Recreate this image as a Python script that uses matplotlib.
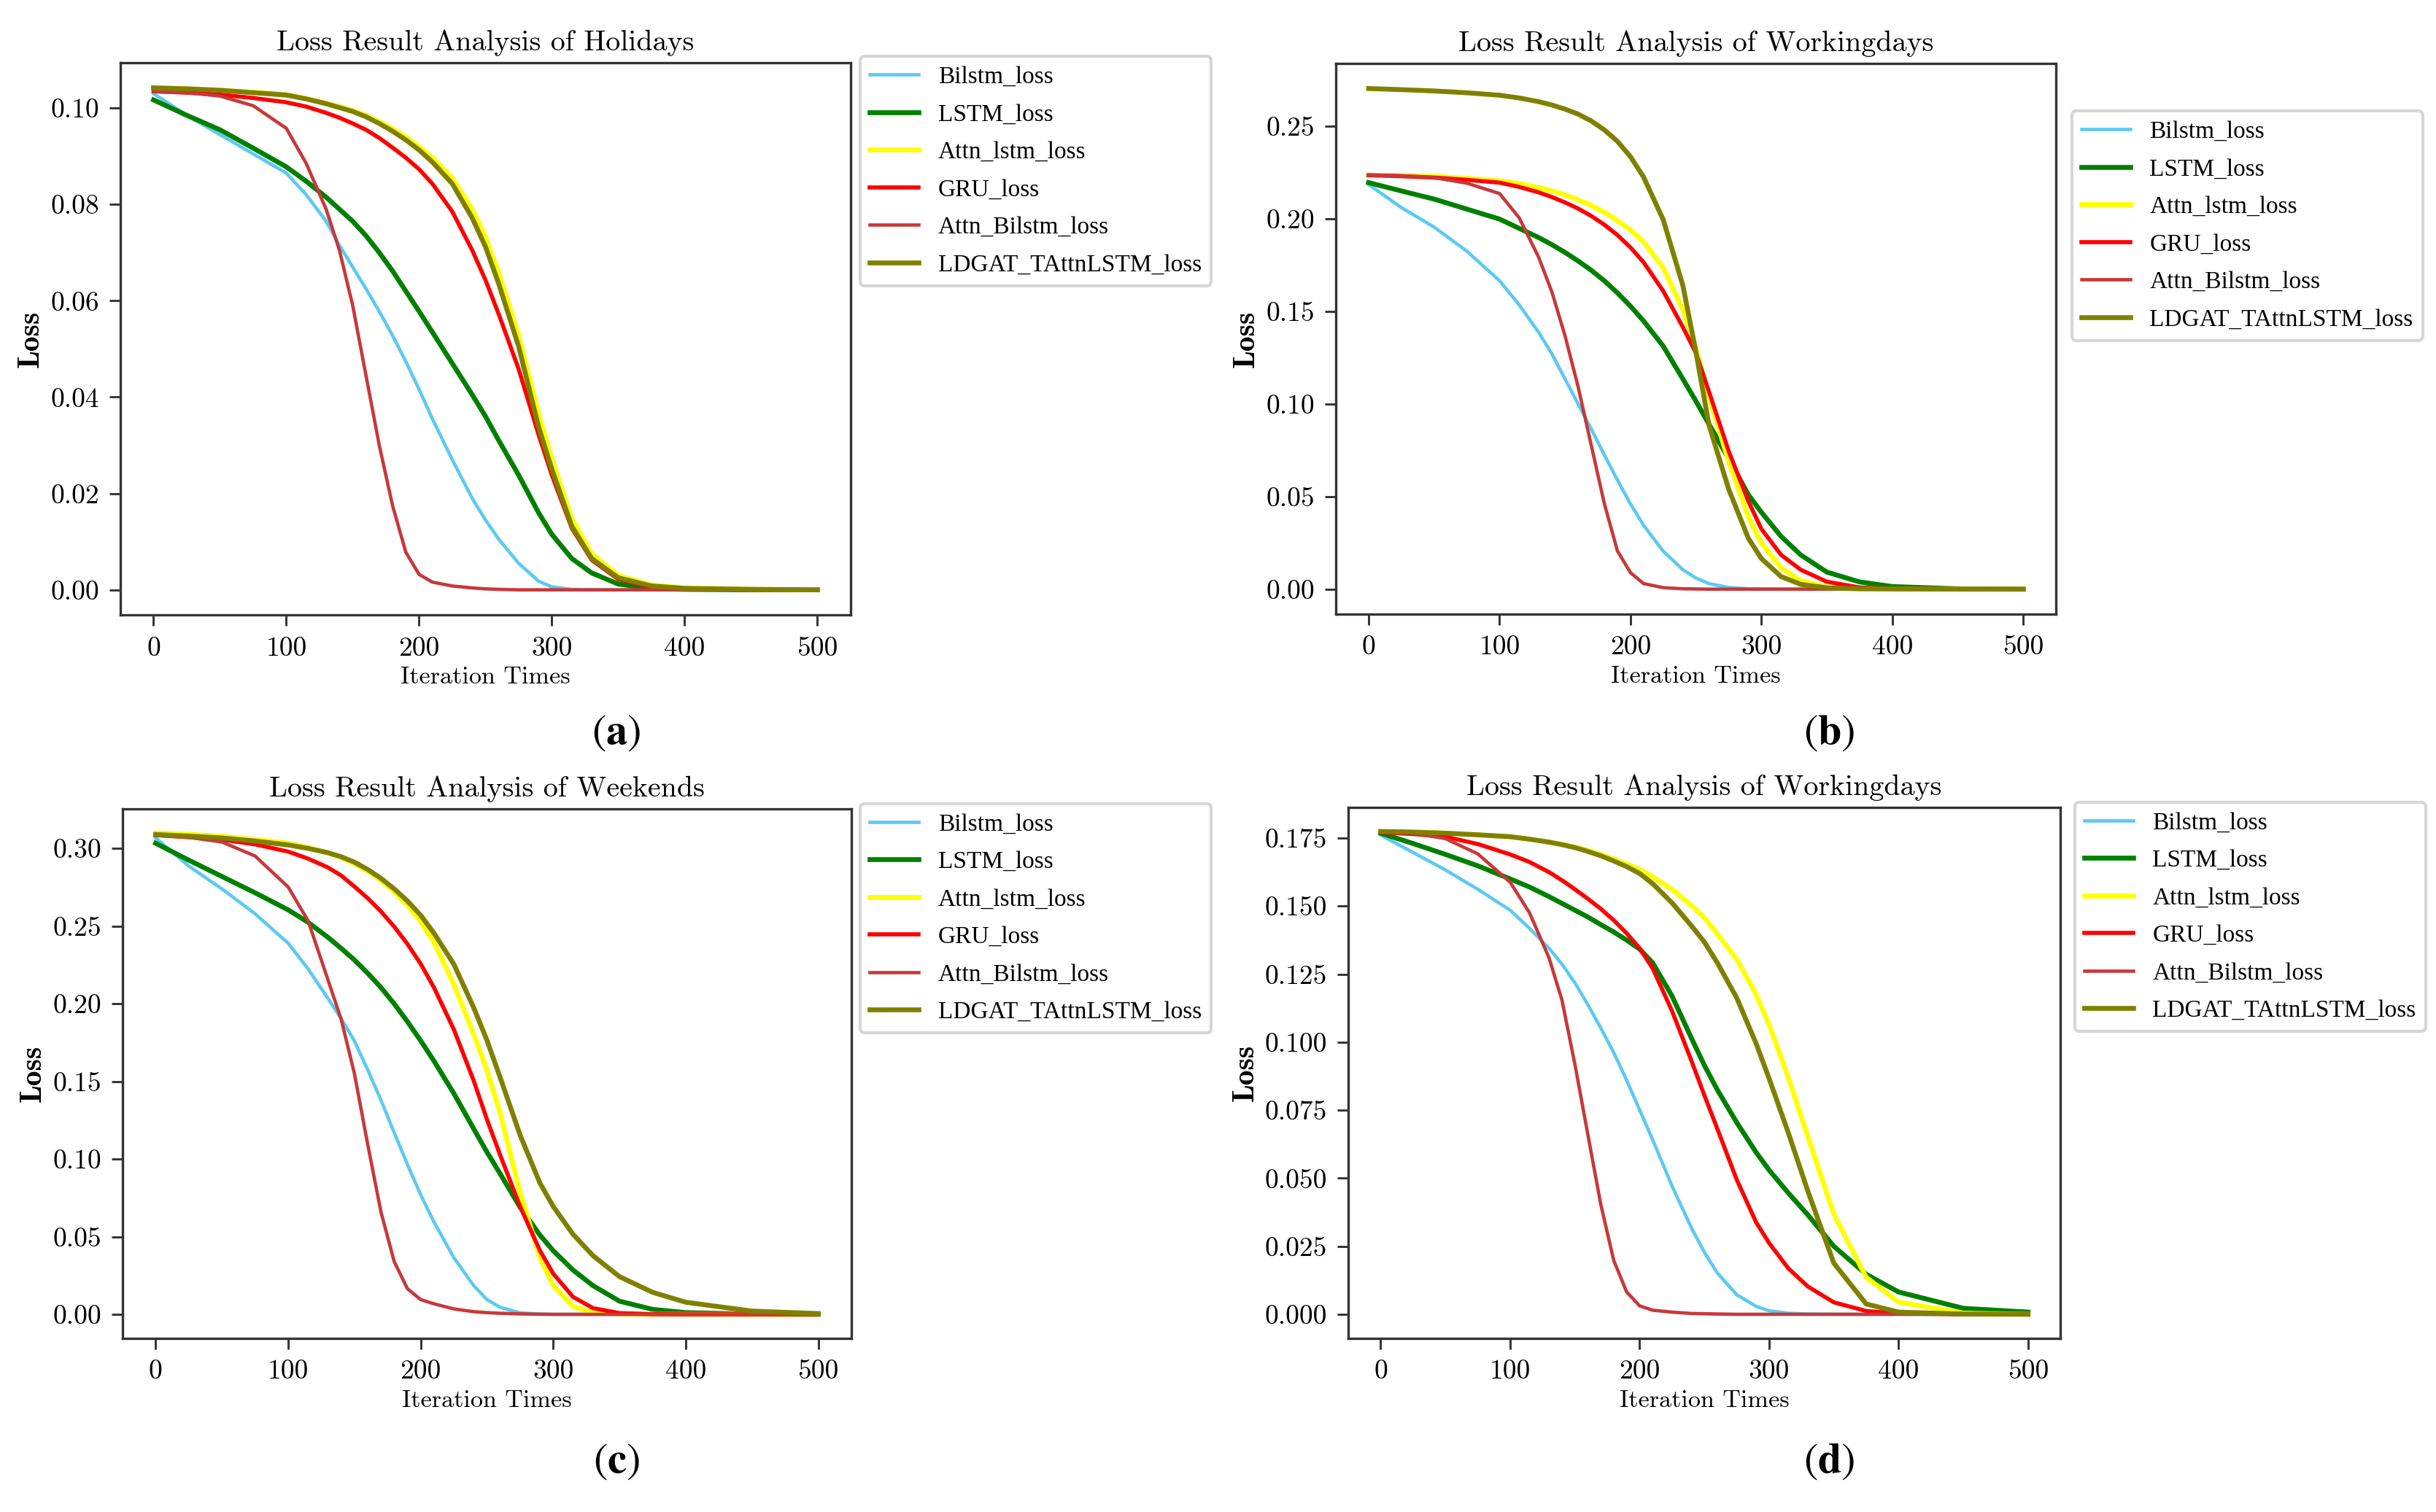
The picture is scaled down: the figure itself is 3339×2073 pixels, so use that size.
import matplotlib
matplotlib.use("Agg")
import matplotlib.pyplot as plt

# iteration grid the curves were read on
iters = [0, 25, 50, 75, 100, 115, 130, 140, 150, 160, 170, 180, 190, 200, 210,
         225, 240, 250, 260, 275, 290, 300, 315, 330, 350, 375, 400, 450, 500]

series_names = ["Bilstm_loss", "LSTM_loss", "Attn_lstm_loss", "GRU_loss",
                "Attn_Bilstm_loss", "LDGAT_TAttnLSTM_loss"]

# (a) holidays
hol_bilstm = [0.103, 0.0985, 0.0945, 0.0905, 0.0865, 0.082, 0.0765, 0.0715, 0.067, 0.0625, 0.0578,
              0.0528, 0.0474, 0.0416, 0.0355, 0.027, 0.019, 0.0145, 0.0105, 0.0055, 0.0018, 0.0006,
              0.0001, 0, 0, 0, 0, 0, 0]
hol_lstm = [0.1017, 0.0985, 0.0955, 0.0917, 0.0878, 0.0848, 0.0815, 0.079, 0.0765, 0.0735, 0.07,
            0.0662, 0.062, 0.0578, 0.0535, 0.047, 0.0405, 0.036, 0.031, 0.0238, 0.016, 0.0115,
            0.0065, 0.0035, 0.0012, 0.0003, 0.0001, 0, 0]
hol_attn_lstm = [0.1042, 0.104, 0.1037, 0.1033, 0.1028, 0.102, 0.101, 0.1003, 0.0995, 0.0985, 0.0972,
                 0.0957, 0.094, 0.092, 0.0897, 0.0855, 0.079, 0.0732, 0.0658, 0.0528, 0.0365, 0.0272,
                 0.0148, 0.0075, 0.003, 0.001, 0.0004, 0.0001, 0]
hol_gru = [0.1035, 0.1032, 0.1028, 0.1021, 0.1012, 0.1003, 0.099, 0.098, 0.0968, 0.0955, 0.0938,
           0.0918, 0.0897, 0.0873, 0.0843, 0.0785, 0.0705, 0.0643, 0.0572, 0.0458, 0.0322, 0.0238,
           0.0128, 0.0062, 0.0022, 0.0006, 0.0002, 0, 0]
hol_attn_bilstm = [0.1034, 0.1032, 0.1025, 0.1005, 0.0958, 0.0885, 0.079, 0.0705, 0.059, 0.0445, 0.030,
                   0.0175, 0.0078, 0.0032, 0.0016, 0.0008, 0.0004, 0.0002, 0.0001, 0, 0, 0,
                   0, 0, 0, 0, 0, 0, 0]
hol_ldgat = [0.1042, 0.104, 0.1037, 0.1032, 0.1027, 0.1019, 0.1009, 0.1001, 0.0993, 0.0982, 0.0968,
             0.0952, 0.0934, 0.0913, 0.0888, 0.0843, 0.0772, 0.0712, 0.0635, 0.0505, 0.0338, 0.025,
             0.0132, 0.0065, 0.0025, 0.0008, 0.0003, 0.0001, 0]

# (b) workingdays
wd_bilstm = [0.2185, 0.206, 0.1955, 0.1825, 0.1665, 0.1535, 0.1385, 0.127, 0.1135, 0.1, 0.0865,
             0.0725, 0.059, 0.046, 0.0345, 0.0205, 0.0105, 0.006, 0.003, 0.0009, 0.0002, 0.0001,
             0, 0, 0, 0, 0, 0, 0]
wd_lstm = [0.2195, 0.215, 0.2106, 0.2052, 0.1998, 0.1948, 0.1898, 0.186, 0.1818, 0.1772, 0.1722,
           0.1665, 0.16, 0.1528, 0.1448, 0.1312, 0.1135, 0.1015, 0.089, 0.0705, 0.051, 0.0415,
           0.0285, 0.0185, 0.0092, 0.0039, 0.0014, 0.0002, 0]
wd_attn_lstm = [0.2235, 0.2233, 0.2229, 0.2219, 0.2205, 0.219, 0.2168, 0.215, 0.213, 0.2103, 0.2072,
                0.2035, 0.199, 0.194, 0.1875, 0.1735, 0.151, 0.13, 0.104, 0.069, 0.039, 0.025,
                0.0115, 0.0045, 0.0012, 0.0003, 0.0001, 0, 0]
wd_gru = [0.2235, 0.223, 0.2222, 0.221, 0.2195, 0.2172, 0.2142, 0.2117, 0.2088, 0.2055, 0.2015,
          0.1968, 0.1912, 0.1845, 0.1765, 0.161, 0.1415, 0.1275, 0.1065, 0.0745, 0.0475, 0.0325,
          0.0185, 0.0105, 0.004, 0.0009, 0.0002, 0, 0]
wd_attn_bilstm = [0.2235, 0.2232, 0.2222, 0.2192, 0.2136, 0.2005, 0.179, 0.1604, 0.1368, 0.1093, 0.0778,
                  0.0463, 0.0207, 0.0089, 0.003, 0.0008, 0.0002, 0.0001, 0, 0, 0, 0,
                  0, 0, 0, 0, 0, 0, 0]
wd_ldgat = [0.2703, 0.2697, 0.269, 0.268, 0.2667, 0.2652, 0.2632, 0.2614, 0.2592, 0.2565, 0.2528,
            0.248, 0.2418, 0.2335, 0.2225, 0.1995, 0.164, 0.128, 0.0885, 0.054, 0.0275, 0.0165,
            0.0068, 0.0026, 0.0007, 0.0002, 0.0001, 0, 0]

# (c) weekends
we_bilstm = [0.3068, 0.2887, 0.274, 0.258, 0.239, 0.2225, 0.2035, 0.1905, 0.176, 0.1575, 0.138,
             0.117, 0.0965, 0.077, 0.0595, 0.0365, 0.0185, 0.0095, 0.0045, 0.001, 0.0002, 0,
             0, 0, 0, 0, 0, 0, 0]
we_lstm = [0.3034, 0.2925, 0.282, 0.2715, 0.2605, 0.2525, 0.2428, 0.2357, 0.2282, 0.2197, 0.2105,
           0.2, 0.1885, 0.1762, 0.1632, 0.1423, 0.1195, 0.1045, 0.0905, 0.069, 0.051, 0.041,
           0.0285, 0.0185, 0.0085, 0.0032, 0.0011, 0.0002, 0]
we_attn_lstm = [0.31, 0.3092, 0.3078, 0.3058, 0.3035, 0.3007, 0.2972, 0.2942, 0.2902, 0.2855, 0.2795,
                0.2722, 0.2635, 0.253, 0.2395, 0.2125, 0.1805, 0.157, 0.1295, 0.0785, 0.0365, 0.0185,
                0.0052, 0.001, 0.0002, 0, 0, 0, 0]
we_gru = [0.3086, 0.3073, 0.3057, 0.3027, 0.298, 0.2935, 0.2878, 0.2826, 0.2755, 0.268, 0.2595,
          0.2497, 0.2385, 0.2257, 0.2105, 0.1835, 0.1505, 0.1255, 0.1025, 0.0695, 0.041, 0.0262,
          0.0112, 0.004, 0.0008, 0.0001, 0, 0, 0]
we_attn_bilstm = [0.3086, 0.3072, 0.3042, 0.2952, 0.2752, 0.2535, 0.2155, 0.19, 0.155, 0.1095, 0.066,
                  0.034, 0.0165, 0.0095, 0.0068, 0.0035, 0.0017, 0.0011, 0.0007, 0.0003, 0.0001, 0,
                  0, 0, 0, 0, 0, 0, 0]
we_ldgat = [0.309, 0.308, 0.3068, 0.3048, 0.3023, 0.3001, 0.2973, 0.2947, 0.2912, 0.2865, 0.2808,
            0.274, 0.2662, 0.257, 0.2455, 0.2255, 0.1975, 0.1765, 0.1525, 0.1155, 0.0845, 0.0695,
            0.0515, 0.0378, 0.0243, 0.0142, 0.0078, 0.0021, 0.0005]

# (d) workingdays, second set
wd2_bilstm = [0.1761, 0.1697, 0.1633, 0.1562, 0.1485, 0.1418, 0.1345, 0.1287, 0.1218, 0.1138, 0.1052,
              0.0962, 0.086, 0.0751, 0.0642, 0.0472, 0.0318, 0.0228, 0.0152, 0.0072, 0.0029, 0.0013,
              0.0004, 0.0001, 0, 0, 0, 0, 0]
wd2_lstm = [0.1768, 0.173, 0.169, 0.1648, 0.16, 0.157, 0.1535, 0.151, 0.1485, 0.146, 0.1432,
            0.1405, 0.1375, 0.1342, 0.1292, 0.117, 0.1015, 0.0915, 0.0825, 0.0705, 0.0595, 0.053,
            0.0445, 0.0365, 0.025, 0.0147, 0.0082, 0.0022, 0.0008]
wd2_attn_lstm = [0.1774, 0.1772, 0.1768, 0.1762, 0.1755, 0.1746, 0.1736, 0.1727, 0.1717, 0.1705, 0.169,
                 0.1673, 0.1655, 0.1635, 0.1608, 0.1562, 0.1502, 0.1458, 0.1398, 0.1305, 0.1175, 0.1065,
                 0.0868, 0.0652, 0.0368, 0.0136, 0.0045, 0.0004, 0]
wd2_gru = [0.1771, 0.1765, 0.1755, 0.1728, 0.169, 0.1662, 0.1625, 0.1595, 0.1562, 0.1527, 0.149,
           0.1448, 0.14, 0.1345, 0.1272, 0.1115, 0.0932, 0.0805, 0.0682, 0.0495, 0.0338, 0.0262,
           0.0168, 0.0102, 0.0044, 0.0012, 0.0003, 0, 0]
wd2_attn_bilstm = [0.1774, 0.1768, 0.1748, 0.1692, 0.1588, 0.1475, 0.131, 0.1155, 0.0919, 0.0661, 0.0404,
                   0.0198, 0.0082, 0.0031, 0.0015, 0.0008, 0.0003, 0.0002, 0.0001, 0, 0, 0,
                   0, 0, 0, 0, 0, 0, 0]
wd2_ldgat = [0.1774, 0.1772, 0.1768, 0.1762, 0.1755, 0.1746, 0.1735, 0.1726, 0.1715, 0.1701, 0.1685,
             0.1666, 0.1645, 0.162, 0.1583, 0.1512, 0.1428, 0.1368, 0.1292, 0.1163, 0.0995, 0.0867,
             0.0665, 0.0452, 0.0188, 0.0038, 0.0008, 0.0001, 0]

titles = ["Loss Result Analysis of Holidays", "Loss Result Analysis of Workingdays",
          "Loss Result Analysis of Weekends", "Loss Result Analysis of Workingdays"]
panel_tags = ["a", "b", "c", "d"]

colors = ["#5ccaf0", "green", "yellow", "red", "#c8383a", "olive"]
widths = [1.1, 1.6, 1.6, 1.35, 1.1, 1.6]

plt.rcParams["font.family"] = ["cmr10", "DejaVu Serif"]
plt.rcParams["mathtext.fontset"] = "stix"
plt.rcParams["axes.unicode_minus"] = False

fig = plt.figure(figsize=(3339 / 300, 2073 / 300), dpi=300)

# axes boxes [left, bottom, width, height] in figure fractions
boxes = [[0.0494, 0.5933, 0.2998, 0.3652],
         [0.5484, 0.5938, 0.2956, 0.3642],
         [0.0503, 0.1148, 0.2992, 0.3502],
         [0.5535, 0.1148, 0.2923, 0.3512]]
legend_anchor = [(1.013, 1.012), (1.022, 0.914), (1.012, 1.01), (1.02, 1.01)]
tag_pos = [(0.253, 0.515), (0.751, 0.515), (0.253, 0.033), (0.751, 0.033)]

panels = [
    [hol_bilstm, hol_lstm, hol_attn_lstm, hol_gru, hol_attn_bilstm, hol_ldgat],
    [wd_bilstm, wd_lstm, wd_attn_lstm, wd_gru, wd_attn_bilstm, wd_ldgat],
    [we_bilstm, we_lstm, we_attn_lstm, we_gru, we_attn_bilstm, we_ldgat],
    [wd2_bilstm, wd2_lstm, wd2_attn_lstm, wd2_gru, wd2_attn_bilstm, wd2_ldgat],
]

for i, curves in enumerate(panels):
    ax = fig.add_axes(boxes[i])
    for name, ys, c, lw in zip(series_names, curves, colors, widths):
        ax.plot(iters, ys, color=c, lw=lw, label=name)
    ax.set_title(titles[i], fontsize=9.6, pad=4)
    ax.set_xlabel("Iteration Times", fontsize=8.2, labelpad=2)
    ax.set_ylabel("Loss", fontsize=10, labelpad=2, family=["cmb10", "DejaVu Serif"])
    ax.set_xticks([0, 100, 200, 300, 400, 500])
    ax.tick_params(labelsize=9, width=0.7, length=3.5, color="#333333")
    for sp in ax.spines.values():
        sp.set_color("#333333")
        sp.set_linewidth(0.8)
    # cmr10 has no underscore glyph, so the legend uses a serif that does
    ax.legend(loc="upper left", bbox_to_anchor=legend_anchor[i], borderaxespad=0,
              prop={"family": "Liberation Serif", "size": 8}, labelspacing=0.63)
    fig.text(tag_pos[i][0], tag_pos[i][1], r"$(\mathbf{%s})$" % panel_tags[i],
             fontsize=14, ha="center", va="center")

fig.savefig("out.png", dpi=300)
plt.close(fig)
